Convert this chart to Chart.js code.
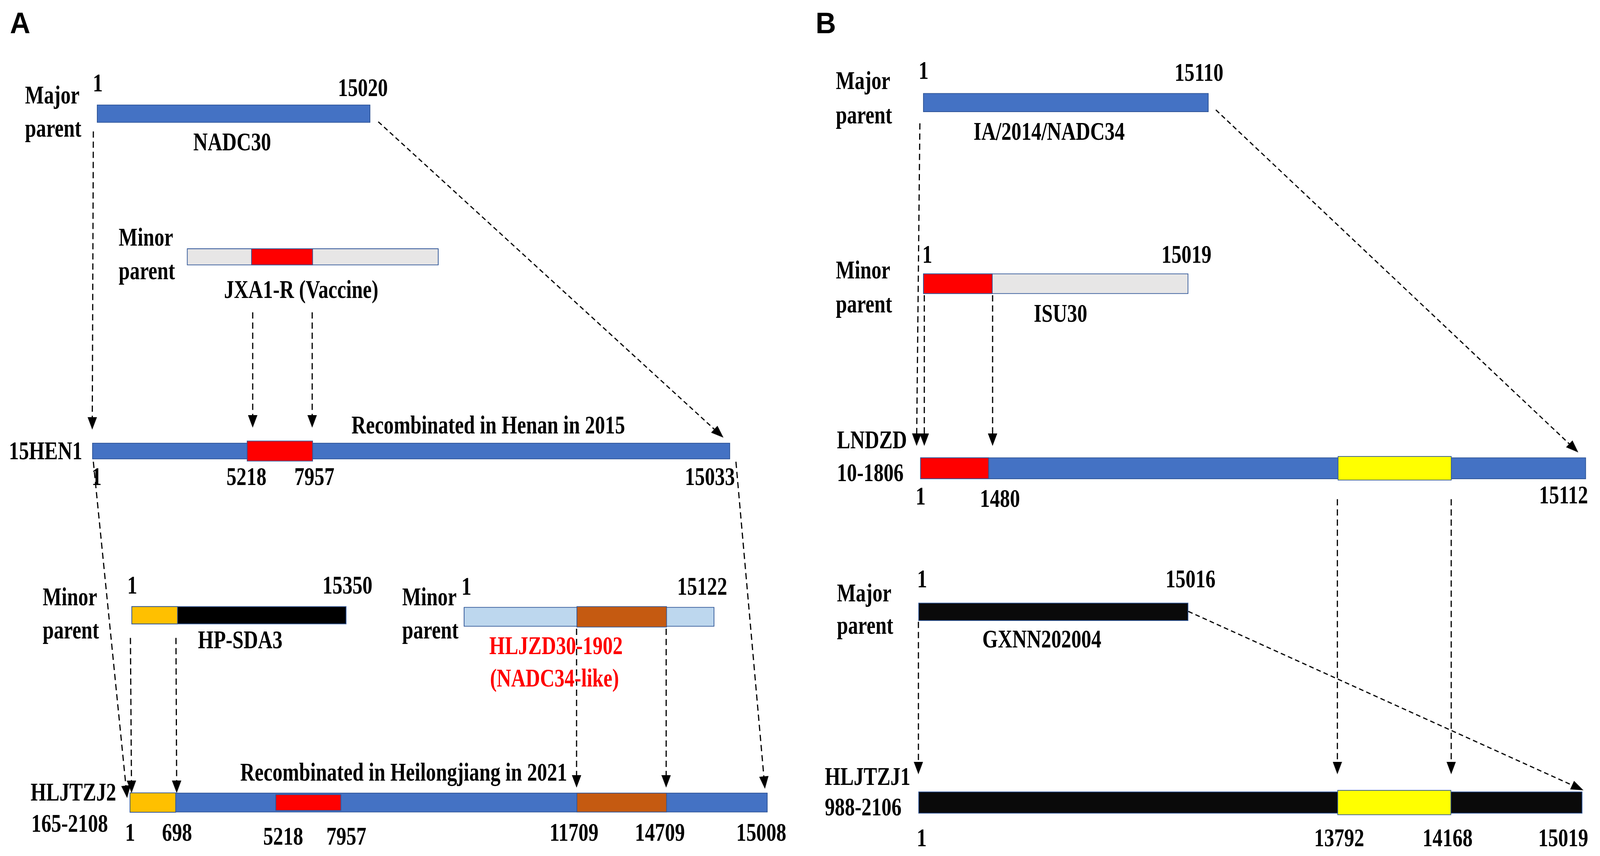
<!DOCTYPE html>
<html>
<head>
<meta charset="utf-8">
<title>PRRSV recombination maps</title>
<script src="https://cdn.jsdelivr.net/npm/chart.js@4.4.1/dist/chart.umd.min.js"></script>
<style>
  html, body { margin: 0; padding: 0; background: #fff; overflow: hidden; }
  #recomb { display: block; }
</style>
</head>
<body>
<canvas id="recomb"></canvas>
<script>
// ---- data ----
const panels = ["A", "B"];

const strains = ["NADC30", "JXA1-R", "15HEN1", "HP-SDA3", "HLJZD30-1902", "HLJTZJ2165-2108",
                 "IA/2014/NADC34", "ISU30", "LNDZD10-1806", "GXNN202004", "HLJTZJ1988-2106"];
const genomeEnd = [15020, null, 15033, 15350, 15122, 15008, 15110, 15019, 15112, 15016, 15019];
const backbone  = ["NADC30", "JXA1-R", "NADC30", "HP-SDA3", "HLJZD30-1902", "NADC30",
                   "IA/2014/NADC34", "ISU30", "IA/2014/NADC34", "GXNN202004", "GXNN202004"];
const strainRole = ["Major parent", "Minor parent", null, "Minor parent", "Minor parent", null,
                    "Major parent", "Minor parent", null, "Major parent", null];
const strainLabel = [["NADC30"], ["JXA1-R (Vaccine)"], ["15HEN1"], ["HP-SDA3"],
                     ["HLJZD30-1902", "(NADC34-like)"], ["HLJTZJ2", "165-2108"],
                     ["IA/2014/NADC34"], ["ISU30"], ["LNDZD", "10-1806"], ["GXNN202004"],
                     ["HLJTZJ1", "988-2106"]];
const recombTitle = [null, null, "Recombinated in Henan in 2015", null, null,
                     "Recombinated in Heilongjiang in 2021", null, null, null, null, null];
const trackTicks = [[1, 15020], [], [1, 5218, 7957, 15033], [1, 15350], [1, 15122],
                    [1, 698, 5218, 7957, 11709, 14709, 15008],
                    [1, 15110], [1, 15019], [1, 1480, 15112], [1, 15016], [1, 13792, 14168, 15019]];

// recombinant regions
const segStrain = ["JXA1-R", "15HEN1", "HP-SDA3", "HLJZD30-1902",
                   "HLJTZJ2165-2108", "HLJTZJ2165-2108", "HLJTZJ2165-2108",
                   "ISU30", "LNDZD10-1806", "LNDZD10-1806", "HLJTZJ1988-2106"];
const segStart = [5218, 5218, 1, 11709, 1, 5218, 11709, 1, 1, 13792, 13792];
const segEnd   = [7957, 7957, 698, 14709, 698, 7957, 14709, 1480, 1480, 14168, 14168];
const segDonor = ["JXA1-R", "JXA1-R", "HP-SDA3", "HLJZD30-1902", "HP-SDA3", "JXA1-R", "HLJZD30-1902",
                  "ISU30", "ISU30", "LNDZD10-1806", "LNDZD10-1806"];

// inheritance arrows (parent position -> offspring position)
const flowFrom    = ["NADC30", "NADC30", "JXA1-R", "JXA1-R", "15HEN1", "15HEN1", "HP-SDA3", "HP-SDA3",
                     "HLJZD30-1902", "HLJZD30-1902", "IA/2014/NADC34", "ISU30", "ISU30", "IA/2014/NADC34",
                     "LNDZD10-1806", "LNDZD10-1806", "GXNN202004", "GXNN202004"];
const flowFromPos = [1, 15020, 5218, 7957, 1, 15033, 1, 698, 11709, 14709, 1, 1, 1480, 15110,
                     13792, 14168, 1, 15016];
const flowTo      = ["15HEN1", "15HEN1", "15HEN1", "15HEN1", "HLJTZJ2165-2108", "HLJTZJ2165-2108",
                     "HLJTZJ2165-2108", "HLJTZJ2165-2108", "HLJTZJ2165-2108", "HLJTZJ2165-2108",
                     "LNDZD10-1806", "LNDZD10-1806", "LNDZD10-1806", "LNDZD10-1806",
                     "HLJTZJ1988-2106", "HLJTZJ1988-2106", "HLJTZJ1988-2106", "HLJTZJ1988-2106"];
const flowToPos   = [1, 15033, 5218, 7957, 1, 15008, 1, 698, 11709, 14709, 1, 1, 1480, 15112,
                     13792, 14168, 1, 15019];

// ---- layout (design units, 4317 x 2192) ----
const W = 4317, H = 2192;
const panelPos = [[7, 67], [2201, 67]];
const layout = {
  "NADC30":          { y: 277,  h: 46, xs: 244,  xe: 988,  at: {},
                       ticksX: [246, 968], ticksY: [219, 231],
                       role: [48, 250, 337], name: [[612, 372, "center"]] },
  "JXA1-R":          { y: 650,  h: 43, xs: 489,  xe: 1174, at: { 5218: 664, 7957: 832 },
                       ticksX: [], ticksY: [],
                       role: [303, 621, 708], name: [[800, 757, "center"]] },
  "15HEN1":          { y: 1156, h: 42, xs: 231,  xe: 1968, at: { 5218: 652, 7957: 832 },
                       ticksX: [243, 651, 836, 1913], ticksY: [1245, 1245, 1245, 1245],
                       name: [[4, 1177, "left"]], title: [937, 1110] },
  "HP-SDA3":         { y: 1584, h: 46, xs: 338,  xe: 923,  at: { 698: 464 },
                       ticksX: [340, 926], ticksY: [1527, 1527],
                       role: [96, 1558, 1645], name: [[634, 1670, "center"]] },
  "HLJZD30-1902":    { y: 1588, h: 50, xs: 1243, xe: 1925, at: { 11709: 1550, 14709: 1796 },
                       ticksX: [1250, 1892], ticksY: [1531, 1531],
                       role: [1075, 1558, 1645],
                       name: [[1494, 1685, "center"], [1490, 1770, "center"]], nameColor: "#FF0000" },
  "HLJTZJ2165-2108": { y: 2072, h: 50, xs: 333,  xe: 2070,
                       at: { 698: 459, 5218: 730, 7957: 909, 11709: 1550, 14709: 1796 },
                       ticksX: [334, 462, 751, 923, 1543, 1777, 2053],
                       ticksY: [2172, 2172, 2182, 2182, 2172, 2172, 2172],
                       name: [[63, 2067, "left"], [65, 2148, "left"]], title: [634, 2015] },
  "IA/2014/NADC34":  { y: 248,  h: 48, xs: 2494, xe: 3271, at: {},
                       ticksX: [2495, 3245], ticksY: [186, 191],
                       role: [2256, 213, 302], name: [[2837, 345, "center"]] },
  "ISU30":           { y: 720,  h: 52, xs: 2494, xe: 3216, at: { 1480: 2683 },
                       ticksX: [2505, 3211], ticksY: [666, 666],
                       role: [2256, 706, 795], name: [[2868, 819, "center"]] },
  "LNDZD10-1806":    { y: 1201, h: 55, xs: 2486, xe: 4299, at: { 1480: 2673, 13792: 3623, 14168: 3933 },
                       ticksX: [2487, 2703, 4238], ticksY: [1295, 1302, 1292],
                       name: [[2259, 1149, "left"], [2259, 1234, "left"]] },
  "GXNN202004":      { y: 1575, h: 46, xs: 2481, xe: 3216, at: {},
                       ticksX: [2491, 3222], ticksY: [1511, 1511],
                       role: [2259, 1548, 1632], name: [[2817, 1668, "center"]] },
  "HLJTZJ1988-2106": { y: 2072, h: 56, xs: 2481, xe: 4289, at: { 13792: 3622, 14168: 3932 },
                       ticksX: [2490, 3627, 3922, 4237], ticksY: [2186, 2186, 2186, 2186],
                       name: [[2226, 2026, "left"], [2226, 2106, "left"]] }
};
const segH = [43, 53, 46, 54, 51, 42, 50, 52, 55, 62, 64];
// [dx start, gap below parent, dx tip, gap above offspring]
const flowAdj = [[-10, 23, 0, 35], [22, -2, -18, 14], [4, 123, 16, 40], [-2, 123, -2, 40],
                 [3, 7, -7, -13], [16, 7, -7, 11], [-3, 36, 5, 0], [-5, 36, 2, 0],
                 [0, 6, 0, 14], [-2, 6, -2, 14], [-9, 30, -10, 31], [3, 4, 11, 31],
                 [0, 4, 10, 31], [20, -5, -21, 14], [-1, 53, 0, 46], [-1, 53, 0, 46],
                 [0, 3, 0, 46], [0, -24, 3, 4]];

// ---- styles ----
const backboneColor = {
  "NADC30": "#4472C4", "IA/2014/NADC34": "#4472C4", "JXA1-R": "#E7E6E6", "ISU30": "#E7E6E6",
  "HP-SDA3": "#000000", "HLJZD30-1902": "#BDD7EE", "GXNN202004": "#0A0A0A"
};
const regionColor = {
  "JXA1-R": "#FF0000", "ISU30": "#FF0000", "HP-SDA3": "#FFC000",
  "HLJZD30-1902": "#C55A11", "LNDZD10-1806": "#FFFF00"
};
const OUTLINE = "#2F5597";
const SERIF = "bold 54px 'Liberation Serif', 'Times New Roman', serif";
const SERIF_SY = 1.2;
const HEAD_L = 32;

// fit the design to the real viewport
const canvas = document.getElementById("recomb");
const pxW = window.innerWidth || W, pxH = window.innerHeight || H;
canvas.width = pxW; canvas.height = pxH;
const kx = pxW / W, ky = pxH / H;

// arrow head sprite (tip pointing up)
const arrowImg = document.createElement("canvas");
arrowImg.width = 24; arrowImg.height = HEAD_L;
(() => {
  const g = arrowImg.getContext("2d");
  g.fillStyle = "#000";
  g.beginPath(); g.moveTo(12, 0); g.lineTo(24, HEAD_L); g.lineTo(0, HEAD_L); g.closePath(); g.fill();
})();

// genome position -> design x for a given strain track
function posX(name, bp) {
  const L = layout[name];
  const end = genomeEnd[strains.indexOf(name)];
  if (bp === 1) return L.xs;
  if (bp == null || bp === end) return L.xe;
  if (L.at[bp] != null) return L.at[bp];
  return L.xs + (L.xe - L.xs) * (bp - 1) / ((end || 15000) - 1);
}

// ---- datasets ----
const datasets = [];

strains.forEach((s, i) => {
  const L = layout[s];
  datasets.push({
    type: "bar", indexAxis: "y", label: s, order: 3, grouped: false,
    barThickness: L.h * ky, borderSkipped: false, borderWidth: 2, borderColor: OUTLINE,
    backgroundColor: backboneColor[backbone[i]],
    data: [{ x: [posX(s, 1), posX(s, genomeEnd[i])], y: L.y }]
  });
});

segStrain.forEach((s, k) => {
  datasets.push({
    type: "bar", indexAxis: "y", label: s + " region", order: 2, grouped: false,
    barThickness: segH[k] * ky, borderSkipped: false, borderWidth: 2, borderColor: OUTLINE,
    backgroundColor: regionColor[segDonor[k]],
    data: [{ x: [posX(s, segStart[k]), posX(s, segEnd[k])], y: layout[s].y }]
  });
});

flowFrom.forEach((f, k) => {
  const t = flowTo[k], a = flowAdj[k];
  const LF = layout[f], LT = layout[t];
  const x0 = posX(f, flowFromPos[k]) + a[0], y0 = LF.y + LF.h / 2 + a[1];
  const x1 = posX(t, flowToPos[k]) + a[2], y1 = LT.y - LT.h / 2 - a[3];
  // direction on screen
  const dxp = (x1 - x0) * kx, dyp = (y1 - y0) * ky;
  const len = Math.hypot(dxp, dyp);
  const ux = dxp / len, uy = dyp / len;
  const ang = Math.atan2(ux, -uy) * 180 / Math.PI;
  datasets.push({
    type: "line", label: f + " > " + t, order: 1, showLine: true, fill: false, tension: 0,
    borderColor: "#000", borderWidth: 3,
    borderDash: Math.abs(ux) > 0.2 ? [12, 8] : [16, 10],
    pointStyle: arrowImg, pointRadius: [0, 16], pointHitRadius: 0, pointHoverRadius: 0,
    pointRotation: [0, ang],
    data: [{ x: x0, y: y0 },
           { x: x1 - ux * (HEAD_L / 2) / kx, y: y1 - uy * (HEAD_L / 2) / ky }]
  });
});

// ---- texts ----
const texts = [];
panels.forEach((p, i) => texts.push({ text: p, x: panelPos[i][0], y: panelPos[i][1],
  font: "bold 76px 'Liberation Sans', Arial, sans-serif", sy: 1, align: "left", color: "#000" }));

strains.forEach((s, i) => {
  const L = layout[s];
  if (strainRole[i]) {
    strainRole[i].split(" ").forEach((w, j) => texts.push({ text: w, x: L.role[0], y: L.role[1 + j],
      font: SERIF, sy: SERIF_SY, align: "left", color: "#000" }));
  }
  strainLabel[i].forEach((line, j) => texts.push({ text: line, x: L.name[j][0], y: L.name[j][1],
    font: SERIF, sy: SERIF_SY, align: L.name[j][2], color: L.nameColor || "#000" }));
  if (recombTitle[i]) {
    texts.push({ text: recombTitle[i], x: L.title[0], y: L.title[1],
      font: SERIF, sy: SERIF_SY, align: "left", color: "#000" });
  }
  trackTicks[i].forEach((v, j) => texts.push({ text: String(v), x: L.ticksX[j], y: L.ticksY[j],
    font: SERIF, sy: SERIF_SY, align: "center", color: "#000" }));
});

const textPlugin = {
  id: "diagramText",
  beforeDraw(chart) {
    const c = chart.ctx;
    c.save(); c.fillStyle = "#fff"; c.fillRect(0, 0, chart.width, chart.height); c.restore();
  },
  afterDatasetsDraw(chart) {
    const { ctx, scales: { x, y } } = chart;
    texts.forEach(t => {
      ctx.save();
      ctx.translate(x.getPixelForValue(t.x), y.getPixelForValue(t.y));
      ctx.scale(kx, t.sy * ky);
      ctx.font = t.font;
      ctx.fillStyle = t.color;
      ctx.textAlign = t.align;
      ctx.textBaseline = "alphabetic";
      ctx.fillText(t.text, 0, 0);
      ctx.restore();
    });
  }
};

new Chart(canvas, {
  type: "scatter",
  data: { datasets },
  options: {
    responsive: false,
    devicePixelRatio: 1,
    animation: false,
    events: [],
    layout: { padding: 0 },
    plugins: { legend: { display: false }, tooltip: { enabled: false } },
    scales: {
      x: { type: "linear", min: 0, max: W, display: false, offset: false },
      y: { type: "linear", min: 0, max: H, reverse: true, display: false, offset: false }
    }
  },
  plugins: [textPlugin]
});
</script>
</body>
</html>
